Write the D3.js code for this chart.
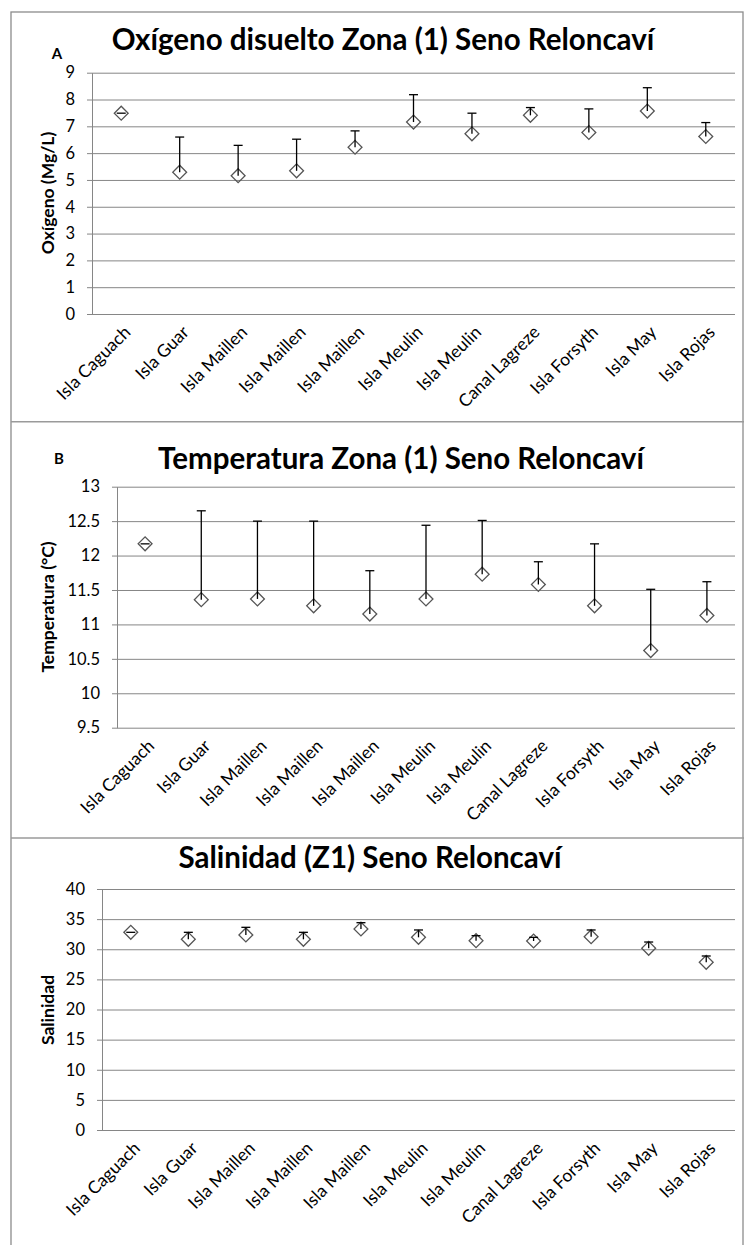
<!DOCTYPE html>
<html>
<head>
<meta charset="utf-8">
<script src="https://cdn.jsdelivr.net/npm/d3@7"></script>
<style>
  body { margin: 0; background: #fff; }
  text { font-family: Lato, "Open Sans", sans-serif; fill: #000; }
</style>
</head>
<body>
<script>
/* Data */
const categories = ['Isla Caguach', 'Isla Guar', 'Isla Maillen', 'Isla Maillen', 'Isla Maillen',
  'Isla Meulin', 'Isla Meulin', 'Canal Lagreze', 'Isla Forsyth', 'Isla May', 'Isla Rojas'];

const oxygenMean = [7.49, 5.29, 5.16, 5.34, 6.22, 7.16, 6.72, 7.41, 6.77, 7.57, 6.62];
const oxygenErr  = [0, 1.31, 1.13, 1.18, 0.61, 1.02, 0.77, 0.29, 0.88, 0.87, 0.52];
const oxygenTicks = [0, 1, 2, 3, 4, 5, 6, 7, 8, 9];

const tempMean = [12.17, 11.36, 11.37, 11.27, 11.15, 11.37, 11.73, 11.58, 11.27, 10.62, 11.13];
const tempErr  = [0, 1.29, 1.13, 1.23, 0.63, 1.07, 0.78, 0.33, 0.90, 0.89, 0.49];
const tempTicks = [9.5, 10, 10.5, 11, 11.5, 12, 12.5, 13];

const salMean = [32.81, 31.65, 32.37, 31.65, 33.36, 31.98, 31.42, 31.37, 32.09, 30.16, 27.83];
const salErr  = [0, 1.16, 1.27, 1.16, 1.05, 1.22, 0.83, 0.61, 1.11, 1.04, 1.05];
const salTicks = [0, 5, 10, 15, 20, 25, 30, 35, 40];

const W = 744, H = 1245;
const GRID = '#868686';

const svg = d3.select('body').append('svg')
  .attr('width', W).attr('height', H);

/* frame of the three stacked charts */
svg.append('rect')
  .attr('x', 11).attr('y', 12).attr('width', 732).attr('height', 1245)
  .attr('fill', 'none').attr('stroke', '#8c8c8c').attr('stroke-width', 1.3);
[421.7, 838].forEach(yy => {
  svg.append('line').attr('x1', 11).attr('x2', 744).attr('y1', yy).attr('y2', yy)
    .attr('stroke', '#9a9a9a').attr('stroke-width', 1.6);
});

const panels = [
  { letter: 'A', title: 'Oxígeno disuelto Zona (1) Seno Reloncaví', yTitle: 'Oxígeno (Mg/L)',
    mean: oxygenMean, err: oxygenErr, ticks: oxygenTicks,
    left: 92, top: 72.7, bottom: 314, titleX: 383, titleY: 50, letterX: 57, letterY: 59, yTitleY: 193 },
  { letter: 'B', title: 'Temperatura Zona (1) Seno Reloncaví', yTitle: 'Temperatura (°C)',
    mean: tempMean, err: tempErr, ticks: tempTicks,
    left: 117, top: 486.7, bottom: 727.7, titleX: 401, titleY: 469, letterX: 59, letterY: 464, yTitleY: 607 },
  { letter: '', title: 'Salinidad (Z1) Seno Reloncaví', yTitle: 'Salinidad',
    mean: salMean, err: salErr, ticks: salTicks,
    left: 102, top: 889, bottom: 1130, titleX: 370, titleY: 868, letterX: 0, letterY: 0, yTitleY: 1010 }
];

const RIGHT = 735;

panels.forEach(p => {
  const g = svg.append('g');

  const x = d3.scaleBand()
    .domain(d3.range(categories.length))
    .range([p.left, RIGHT]);
  const y = d3.scaleLinear()
    .domain(d3.extent(p.ticks))
    .range([p.bottom, p.top]);

  // gridlines
  g.append('g')
    .attr('transform', `translate(${p.left},0)`)
    .call(d3.axisLeft(y).tickValues(p.ticks).tickSize(-(RIGHT - p.left)).tickFormat(''))
    .call(a => a.select('.domain').remove())
    .call(a => a.selectAll('line').attr('stroke', GRID).attr('stroke-width', 1));

  // value axis
  g.append('g')
    .attr('transform', `translate(${p.left},0)`)
    .call(d3.axisLeft(y).tickValues(p.ticks).tickSize(5).tickPadding(12).tickSizeOuter(0)
      .tickFormat(d => String(d)))
    .call(a => a.select('.domain').attr('stroke', GRID))
    .call(a => a.selectAll('line').attr('stroke', GRID))
    .call(a => a.selectAll('text').attr('font-size', 16.5).attr('font-family', 'Lato').attr('fill', '#000'));

  // category axis labels
  g.append('g')
    .attr('transform', `translate(0,${p.bottom})`)
    .call(d3.axisBottom(x).tickSize(0).tickFormat(i => categories[i]))
    .call(a => a.select('.domain').remove())
    .call(a => a.selectAll('text')
      .attr('font-size', 17.5).attr('font-family', 'Lato').attr('fill', '#000')
      .attr('text-anchor', 'end')
      .attr('dy', '0.35em').attr('y', 0)
      .attr('transform', 'translate(6,15) rotate(-45)'));

  // markers
  const cx = i => x(i) + x.bandwidth() / 2;
  g.selectAll('.mark')
    .data(p.mean)
    .enter().append('path')
    .attr('class', 'mark')
    .attr('d', d3.symbol().type(d3.symbolSquare).size(96))
    .attr('transform', (d, i) => `translate(${cx(i)},${y(d)}) rotate(45)`)
    .attr('fill', 'none')
    .attr('stroke', '#555')
    .attr('stroke-width', 1.3);

  // error bars (plus only)
  g.selectAll('.bar')
    .data(p.mean)
    .enter().append('line')
    .attr('class', 'bar')
    .attr('x1', (d, i) => cx(i)).attr('x2', (d, i) => cx(i))
    .attr('y1', d => y(d))
    .attr('y2', (d, i) => y(d + p.err[i]))
    .attr('stroke', '#000').attr('stroke-width', 1.3);
  g.selectAll('.cap')
    .data(p.mean)
    .enter().append('line')
    .attr('class', 'cap')
    .attr('x1', (d, i) => cx(i) - 4.5).attr('x2', (d, i) => cx(i) + 4.5)
    .attr('y1', (d, i) => y(d + p.err[i]))
    .attr('y2', (d, i) => y(d + p.err[i]))
    .attr('stroke', '#000').attr('stroke-width', 1.3);

  // titles
  g.append('text')
    .attr('x', p.titleX).attr('y', p.titleY)
    .attr('text-anchor', 'middle')
    .attr('font-size', 29.5).attr('font-weight', 'bold')
    .text(p.title);

  if (p.letter) {
    g.append('text')
      .attr('x', p.letterX).attr('y', p.letterY)
      .attr('text-anchor', 'middle')
      .attr('font-size', 15).attr('font-weight', 'bold')
      .text(p.letter);
  }

  g.append('text')
    .attr('transform', `translate(54,${p.yTitleY}) rotate(-90)`)
    .attr('text-anchor', 'middle')
    .attr('font-size', 17.5).attr('font-weight', 'bold')
    .text(p.yTitle);
});
</script>
</body>
</html>
